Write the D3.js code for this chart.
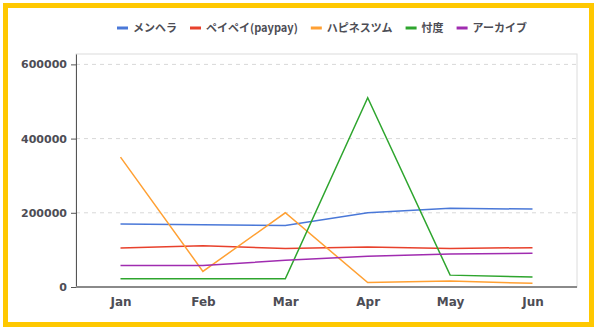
<!DOCTYPE html>
<html>
<head>
<meta charset="utf-8">
<script src="https://cdn.jsdelivr.net/npm/d3@7"></script>
<style>
  body { margin: 0; background: #fff; }
  svg { display: block; }
</style>
</head>
<body>
<div id="chart"></div>
<script>
// chart data
const months = ['Jan', 'Feb', 'Mar', 'Apr', 'May', 'Jun'];
const seriesNames = ['メンヘラ', 'ペイペイ(paypay)', 'ハピネスツム', '忖度', 'アーカイブ'];
const menhera = [170000, 168000, 166000, 200000, 212000, 210000];
const paypay = [105000, 111000, 104000, 108000, 104000, 106000];
const happiness = [350000, 42000, 200000, 12000, 16000, 10000];
const sontaku = [22000, 22000, 22000, 510000, 32000, 27000];
const archive = [58000, 58000, 72000, 83000, 89000, 91000];
const yTicks = [0, 200000, 400000, 600000];
const colors = ['#4a78d8', '#e8412c', '#ffa033', '#2ea52e', '#a02cb0'];

const width = 600, height = 332;
const margin = {top: 54, right: 23, bottom: 45, left: 76};

const svg = d3.select('#chart').append('svg')
    .attr('width', width)
    .attr('height', height);

// yellow frame
svg.append('rect')
    .attr('x', 5.5).attr('y', 5.5)
    .attr('width', 586).attr('height', 319)
    .attr('fill', 'none')
    .attr('stroke', '#ffc800')
    .attr('stroke-width', 5);

const x = d3.scalePoint()
    .domain(months)
    .range([margin.left, width - margin.right])
    .padding(0.54);

const y = d3.scaleLinear()
    .domain([0, 628000])
    .range([height - margin.bottom, margin.top]);

// plot frame (light)
svg.append('rect')
    .attr('x', margin.left).attr('y', margin.top)
    .attr('width', width - margin.right - margin.left)
    .attr('height', height - margin.bottom - margin.top)
    .attr('fill', 'none')
    .attr('stroke', '#dcdcdc');

// dashed gridlines
svg.append('g')
    .selectAll('line')
    .data(yTicks.filter(d => d > 0))
    .join('line')
        .attr('x1', margin.left)
        .attr('x2', width - margin.right)
        .attr('y1', d => y(d))
        .attr('y2', d => y(d))
        .attr('stroke', '#d8d8d8')
        .attr('stroke-dasharray', '4,4');

// y axis
const yAxis = svg.append('g')
    .attr('transform', `translate(${margin.left},0)`)
    .call(d3.axisLeft(y).tickValues(yTicks).tickFormat(d3.format('d'))
        .tickSize(5).tickPadding(4).tickSizeOuter(0));
yAxis.select('.domain').attr('stroke', '#555');
yAxis.selectAll('.tick line').attr('stroke', '#555');
yAxis.selectAll('.tick text')
    .attr('fill', '#4d4d55')
    .style('font-family', 'DejaVu Sans')
    .style('font-weight', 'bold')
    .style('font-size', '11px');

// x axis
const xAxis = svg.append('g')
    .attr('transform', `translate(0,${height - margin.bottom})`)
    .call(d3.axisBottom(x).tickSize(0).tickPadding(10));
xAxis.select('.domain')
    .attr('d', `M${margin.left},0H${width - margin.right}`)
    .attr('stroke', '#8a8a8a')
    .attr('stroke-width', 2);
xAxis.selectAll('.tick text')
    .attr('fill', '#4d4d55')
    .style('font-family', 'DejaVu Sans')
    .style('font-weight', 'bold')
    .style('font-size', '12px');

// lines
const seriesData = [menhera, paypay, happiness, sontaku, archive];
const line = d3.line()
    .x((d, i) => x(months[i]))
    .y(d => y(d));

svg.append('g')
    .selectAll('path')
    .data(seriesData)
    .join('path')
        .attr('d', line)
        .attr('fill', 'none')
        .attr('stroke', (d, i) => colors[i])
        .attr('stroke-width', 1.5);

// legend
const legend = svg.append('g').attr('transform', 'translate(0,28)');
const items = legend.selectAll('g')
    .data(seriesNames)
    .join('g');
items.append('rect')
    .attr('width', 11).attr('height', 3)
    .attr('y', -1.5)
    .attr('fill', (d, i) => colors[i]);
items.append('text')
    .text(d => d)
    .attr('x', 16)
    .attr('dy', '0.36em')
    .attr('fill', '#4d4d55')
    .style('font-family', '"Noto Sans CJK JP", "Noto Sans", sans-serif')
    .style('font-weight', 'bold')
    .style('font-size', '11px');

let lx = 117;
items.each(function() {
    const g = d3.select(this);
    g.attr('transform', `translate(${lx},0)`);
    lx += 16 + g.select('text').node().getComputedTextLength() + 13;
});
</script>
</body>
</html>
